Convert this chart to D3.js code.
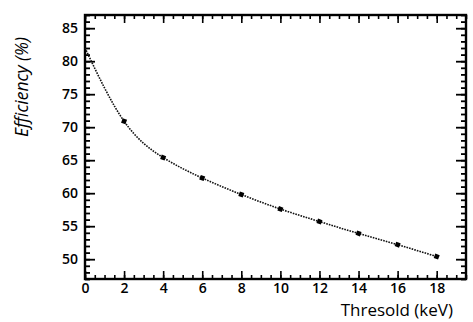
<!DOCTYPE html>
<html>
<head>
<meta charset="utf-8">
<script src="https://cdn.jsdelivr.net/npm/d3@7"></script>
<style>
  html, body { margin: 0; padding: 0; background: #fff; }
  svg { display: block; }
  text { font-family: "Open Sans", "DejaVu Sans", sans-serif; fill: #000; }
</style>
</head>
<body>
<svg id="chart" width="473" height="322"></svg>
<script>
// Detection efficiency versus energy threshold
const thresholds = [0, 2, 4, 6, 8, 10, 12, 14, 16, 18];
const efficiency = [82.0, 70.9, 65.4, 62.3, 59.8, 57.6, 55.7, 53.9, 52.2, 50.4];
const markedThresholds = [2, 4, 6, 8, 10, 12, 14, 16, 18];
const xTickValues = [0, 2, 4, 6, 8, 10, 12, 14, 16, 18];
const yTickValues = [50, 55, 60, 65, 70, 75, 80, 85];
const xLabel = "Thresold (keV)";
const yLabel = "Efficiency (%)";

const svg = d3.select("#chart");
const plotLeft = 85, plotRight = 466, plotTop = 15, plotBottom = 279;

const x = d3.scaleLinear().domain([0, 19.5]).range([plotLeft, plotRight]);
const y = d3.scaleLinear().domain([47, 87]).range([plotBottom, plotTop]);

const xMinor = d3.range(0, 19.5 + 1e-9, 0.5);
const yMinor = d3.range(47, 87 + 1e-9, 1);

function styleAxis(g, w) {
  g.select(".domain").remove();
  g.selectAll(".tick line").attr("stroke", "#000").attr("stroke-width", w);
}

function styleLabels(g) {
  g.selectAll(".tick text")
    .attr("font-size", 14)
    .attr("font-weight", 600)
    .attr("font-family", "Open Sans")
    .attr("fill", "#000");
}

// minor ticks, all four sides, pointing inward
svg.append("g").attr("transform", `translate(0,${plotBottom})`)
  .call(d3.axisBottom(x).tickValues(xMinor).tickSize(-4).tickFormat(""))
  .call(g => styleAxis(g, 1.6));
svg.append("g").attr("transform", `translate(0,${plotTop})`)
  .call(d3.axisTop(x).tickValues(xMinor).tickSize(-4).tickFormat(""))
  .call(g => styleAxis(g, 1.6));
svg.append("g").attr("transform", `translate(${plotLeft},0)`)
  .call(d3.axisLeft(y).tickValues(yMinor).tickSize(-5).tickFormat(""))
  .call(g => styleAxis(g, 1.8));
svg.append("g").attr("transform", `translate(${plotRight},0)`)
  .call(d3.axisRight(y).tickValues(yMinor).tickSize(-5).tickFormat(""))
  .call(g => styleAxis(g, 1.8));

// major ticks with labels
svg.append("g").attr("transform", `translate(0,${plotBottom})`)
  .call(d3.axisBottom(x).tickValues(xTickValues).tickSize(-8).tickPadding(4).tickFormat(d3.format("d")))
  .call(g => styleAxis(g, 1.6))
  .call(styleLabels);
svg.append("g").attr("transform", `translate(0,${plotTop})`)
  .call(d3.axisTop(x).tickValues(xTickValues).tickSize(-8).tickFormat(""))
  .call(g => styleAxis(g, 1.6));
svg.append("g").attr("transform", `translate(${plotLeft},0)`)
  .call(d3.axisLeft(y).tickValues(yTickValues).tickSize(-10).tickPadding(7).tickFormat(d3.format("d")))
  .call(g => styleAxis(g, 1.8))
  .call(styleLabels);
svg.append("g").attr("transform", `translate(${plotRight},0)`)
  .call(d3.axisRight(y).tickValues(yTickValues).tickSize(-10).tickFormat(""))
  .call(g => styleAxis(g, 1.8));

// frame
svg.append("rect")
  .attr("x", plotLeft).attr("y", plotTop)
  .attr("width", plotRight - plotLeft).attr("height", plotBottom - plotTop)
  .attr("fill", "none").attr("stroke", "#000").attr("stroke-width", 2.4);

// efficiency curve
const pts = thresholds.map((t, i) => [t, efficiency[i]]);
const line = d3.line().x(d => x(d[0])).y(d => y(d[1])).curve(d3.curveNatural);
svg.append("path")
  .attr("d", line(pts))
  .attr("fill", "none")
  .attr("stroke", "#111")
  .attr("stroke-width", 1.6)
  .attr("stroke-dasharray", "1.6,1.1");

// markers
const marked = pts.filter(d => markedThresholds.includes(d[0]));
svg.append("g").selectAll("path")
  .data(marked)
  .join("path")
  .attr("d", d3.symbol(d3.symbolSquare, 22)())
  .attr("transform", d => `translate(${x(d[0])},${y(d[1])}) rotate(20)`)
  .attr("fill", "#000");

// axis titles
svg.append("text")
  .attr("x", 453).attr("y", 316)
  .attr("text-anchor", "end")
  .attr("font-size", 17)
  .attr("font-weight", 500)
  .text(xLabel);
svg.append("text")
  .attr("transform", "translate(28,87) rotate(-90)")
  .attr("text-anchor", "middle")
  .attr("font-size", 17.5)
  .attr("font-style", "italic")
  .attr("font-weight", 500)
  .text(yLabel);
</script>
</body>
</html>
